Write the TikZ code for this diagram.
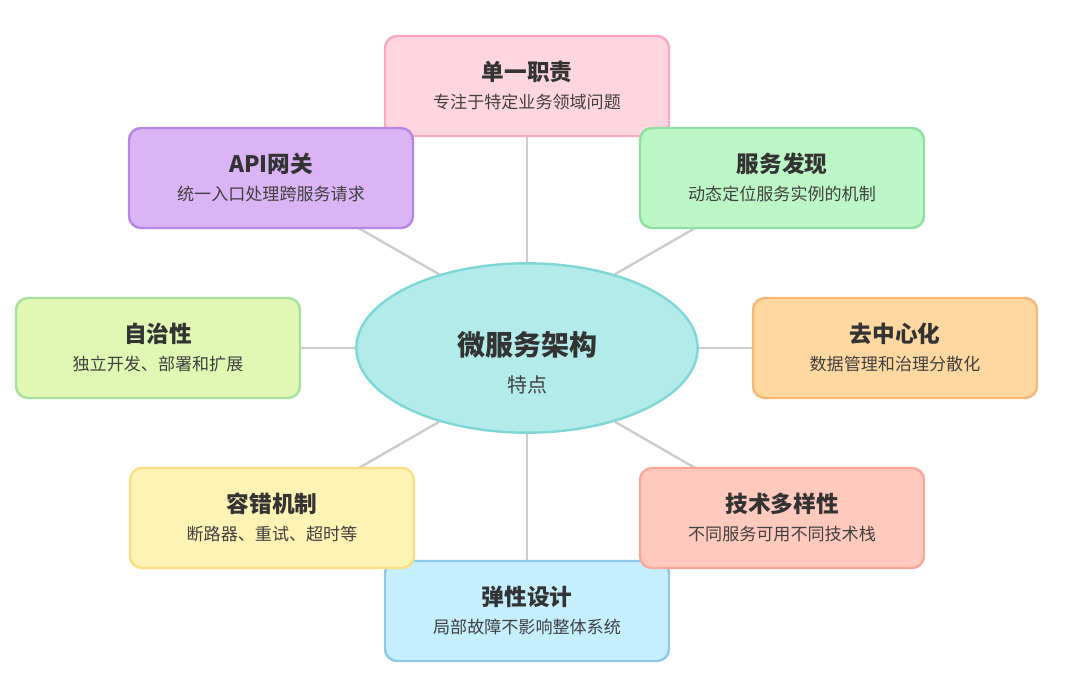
\documentclass[tikz,border=0pt]{standalone}
\usepackage{fontspec}
\setmainfont{Noto Sans CJK SC}
\usetikzlibrary{shapes.geometric,backgrounds}
\definecolor{txt}{HTML}{333333}
\definecolor{subtxt}{HTML}{404040}
\definecolor{linec}{HTML}{CCCCCC}
\definecolor{pinkF}{HTML}{FFD5E0}\definecolor{pinkD}{HTML}{F9AAC2}
\definecolor{purpF}{HTML}{DAB4F5}\definecolor{purpD}{HTML}{B685E6}
\definecolor{grnF}{HTML}{BDF6C6}\definecolor{grnD}{HTML}{90DEA0}
\definecolor{lgF}{HTML}{E1F8B4}\definecolor{lgD}{HTML}{A9DFA0}
\definecolor{orF}{HTML}{FFD8A1}\definecolor{orD}{HTML}{F8B773}
\definecolor{yeF}{HTML}{FFF2B5}\definecolor{yeD}{HTML}{FDDD84}
\definecolor{saF}{HTML}{FFC9BE}\definecolor{saD}{HTML}{F8A898}
\definecolor{blF}{HTML}{C5EEFF}\definecolor{blD}{HTML}{8EC9EA}
\definecolor{elF}{HTML}{B3EAEA}\definecolor{elD}{HTML}{7FD6D6}
\tikzset{
  card/.style={rectangle, rounded corners=9pt, line width=1.8pt, minimum width=213pt, minimum height=75pt},
  ttl/.style={text=txt, font=\fontsize{17}{20}\selectfont\bfseries, inner sep=0pt},
  sub/.style={text=subtxt, font=\fontsize{12.8}{15}\selectfont, inner sep=0pt},
  conn/.style={draw=linec, line width=1.8pt},
}
\begin{document}
\begin{tikzpicture}[x=0.75pt,y=-0.75pt]
\useasboundingbox (0,0) rectangle (1080,689);
% central ellipse
\node[ellipse, fill=elF, draw=elD, line width=1.8pt, minimum width=256pt, minimum height=127pt] (center) at (527,348) {};
\node[text=txt, font=\fontsize{21}{24}\selectfont\bfseries, inner sep=0pt] (ct) at (527,345) {微服务架构};
\node[sub, font=\fontsize{15}{18}\selectfont] (cs) at (527,385) {特点};
% cards
\node[card, fill=pinkF, draw=pinkD] (b1) at (527,86) {};
\node[card, fill=blF, draw=blD] (b8) at (527,611) {};
\node[card, fill=purpF, draw=purpD] (b2) at (271,178) {};
\node[card, fill=grnF, draw=grnD] (b3) at (782,178) {};
\node[card, fill=lgF, draw=lgD] (b4) at (158,348) {};
\node[card, fill=orF, draw=orD] (b5) at (895,348) {};
\node[card, fill=yeF, draw=yeD] (b6) at (272,518) {};
\node[card, fill=saF, draw=saD] (b7) at (782,518) {};
% texts
\node[ttl] (t1) at (527,72) {单一职责};
\node[sub] (s1) at (527,102) {专注于特定业务领域问题};
\node[ttl] (t2) at (271,164) {API网关};
\node[sub] (s2) at (271,194) {统一入口处理跨服务请求};
\node[ttl] (t3) at (782,164) {服务发现};
\node[sub] (s3) at (782,194) {动态定位服务实例的机制};
\node[ttl] (t4) at (158,334) {自治性};
\node[sub] (s4) at (158,364) {独立开发、部署和扩展};
\node[ttl] (t5) at (895,334) {去中心化};
\node[sub] (s5) at (895,364) {数据管理和治理分散化};
\node[ttl] (t6) at (272,504) {容错机制};
\node[sub] (s6) at (272,534) {断路器、重试、超时等};
\node[ttl] (t7) at (782,504) {技术多样性};
\node[sub] (s7) at (782,534) {不同服务可用不同技术栈};
\node[ttl] (t8) at (527,597) {弹性设计};
\node[sub] (s8) at (527,627) {局部故障不影响整体系统};
% connectors
\begin{scope}[on background layer]
\draw[conn] (b1.center) -- (center.90);
\draw[conn] (b8.center) -- (center.270);
\draw[conn] (b2.center) -- (center.140);
\draw[conn] (b3.center) -- (center.40);
\draw[conn] (b4.center) -- (center.180);
\draw[conn] (b5.center) -- (center.0);
\draw[conn] (b6.center) -- (center.220);
\draw[conn] (b7.center) -- (center.320);
\end{scope}
\end{tikzpicture}
\end{document}
